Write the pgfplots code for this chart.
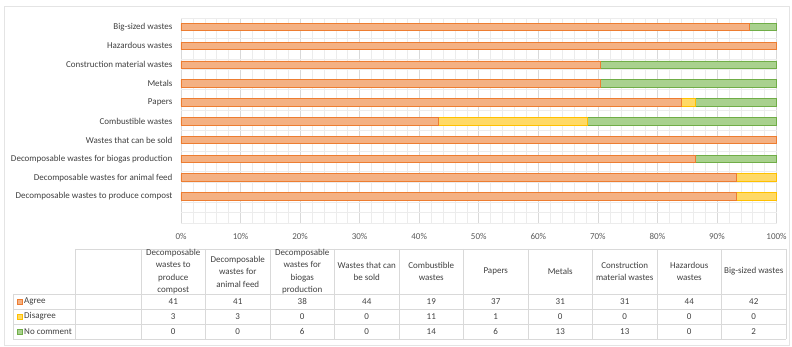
\documentclass[border=0pt]{standalone}
\usepackage{pgfplots}
\usepackage{pgfplotstable}
\pgfplotsset{compat=1.18}
\usepackage{fontspec}
\setmainfont{Carlito}

\definecolor{agreeFill}{RGB}{244,177,131}
\definecolor{agreeLine}{RGB}{237,125,49}
\definecolor{disFill}{RGB}{255,217,102}
\definecolor{disLine}{RGB}{255,192,0}
\definecolor{noFill}{RGB}{169,209,142}
\definecolor{noLine}{RGB}{112,173,71}
\definecolor{txt}{RGB}{64,64,64}
\definecolor{ticktxt}{RGB}{89,89,89}
\definecolor{majgrid}{RGB}{217,217,217}
\definecolor{mingrid}{RGB}{236,236,236}
\definecolor{tabline}{RGB}{217,217,217}
\definecolor{framecol}{RGB}{228,228,228}

% Survey answers (out of 44 respondents), one row per waste type
\pgfplotstableread{
idx agree disagree nocomment
0   41    3        0
1   41    3        0
2   38    0        6
3   44    0        0
4   19    11       14
5   37    1        6
6   31    0        13
7   31    0        13
8   44    0        0
9   42    0        2
}\survey

\begin{document}
\begin{tikzpicture}
\path[use as bounding box] (0pt,0pt) rectangle (792pt,347pt);
\draw[framecol, line width=0.6pt] (4pt,2pt) rectangle (789pt,341pt);

\begin{axis}[
  at={(181pt,124pt)}, anchor=south west,
  scale only axis, width=595.5pt, height=205pt,
  xbar stacked, bar width=7.5pt,
  xmin=0, xmax=44, ymin=-1.41, ymax=9.48,
  axis line style={draw=none},
  major tick length=0pt, minor tick length=0pt,
  xtick={0,4.4,8.8,13.2,17.6,22,26.4,30.8,35.2,39.6,44},
  xticklabels={0\%,10\%,20\%,30\%,40\%,50\%,60\%,70\%,80\%,90\%,100\%},
  minor x tick num=4,
  ytick={0,...,9},
  yticklabels={Decomposable wastes to produce compost,
    Decomposable wastes for animal feed,
    Decomposable wastes for biogas production,
    Wastes that can be sold,
    Combustible wastes,
    Papers,
    Metals,
    Construction material wastes,
    Hazardous wastes,
    Big-sized wastes},
  minor ytick={-1.41,-0.8655,-0.321,0.2235,0.768,1.3125,1.857,2.4015,2.946,
    3.4905,4.035,4.5795,5.124,5.6685,6.213,6.7575,7.302,7.8465,8.391,8.9355,9.48},
  xmajorgrids, xminorgrids, yminorgrids,
  major grid style={majgrid, line width=0.6pt},
  minor grid style={mingrid, line width=0.5pt},
  xticklabel style={font=\fontsize{9}{10}\selectfont, text=ticktxt, yshift=-6.5pt},
  yticklabel style={font=\fontsize{9}{10}\selectfont, text=txt, xshift=-5pt},
  clip=false,
]
\addplot[fill=agreeFill, draw=agreeLine, line width=0.8pt] table[x=agree, y=idx]{\survey};
\addplot[fill=disFill, draw=disLine, line width=0.8pt] table[x=disagree, y=idx]{\survey};
\addplot[fill=noFill, draw=noLine, line width=0.8pt] table[x=nocomment, y=idx]{\survey};
\end{axis}

% Data table under the chart
\begin{scope}[x=1pt, y=1pt]
\begin{scope}[tabline, line width=0.6pt]
  \draw (75,98) -- (786,98);
  \foreach \yy in {53,38,23,8} \draw (13,\yy) -- (786,\yy);
  \draw (13,53) -- (13,8);
  \draw (75,98) -- (75,8);
  \foreach \k in {0,...,10} \draw ({141+64.5*\k},98) -- ({141+64.5*\k},8);
\end{scope}

\begin{scope}[every node/.style={font=\fontsize{9}{12.5}\selectfont, text=txt, align=center, inner sep=0pt}]
  \foreach \lab [count=\i from 0] in {
      {Decomposable\\wastes to\\produce\\compost},
      {Decomposable\\wastes for\\animal feed},
      {Decomposable\\wastes for\\biogas\\production},
      {Wastes that can\\be sold},
      {Combustible\\wastes},
      {Papers},
      {Metals},
      {Construction\\material wastes},
      {Hazardous\\wastes},
      {Big-sized wastes}}
    \node at ({173.25+64.5*\i},75.5) {\lab};
  \foreach \i in {0,...,9} {
    \pgfplotstablegetelem{\i}{agree}\of\survey
    \node at ({173.25+64.5*\i},45.5) {\pgfplotsretval};
    \pgfplotstablegetelem{\i}{disagree}\of\survey
    \node at ({173.25+64.5*\i},30.5) {\pgfplotsretval};
    \pgfplotstablegetelem{\i}{nocomment}\of\survey
    \node at ({173.25+64.5*\i},15.5) {\pgfplotsretval};
  }
  \draw[fill=agreeFill, draw=agreeLine, line width=0.5pt] (17.5,43) rectangle (22.5,48);
  \draw[fill=disFill, draw=disLine, line width=0.5pt] (17.5,28) rectangle (22.5,33);
  \draw[fill=noFill, draw=noLine, line width=0.5pt] (17.5,13) rectangle (22.5,18);
  \node[anchor=west] at (24,45.5) {Agree};
  \node[anchor=west] at (24,30.5) {Disagree};
  \node[anchor=west] at (24,15.5) {No comment};
\end{scope}
\end{scope}
\end{tikzpicture}
\end{document}
